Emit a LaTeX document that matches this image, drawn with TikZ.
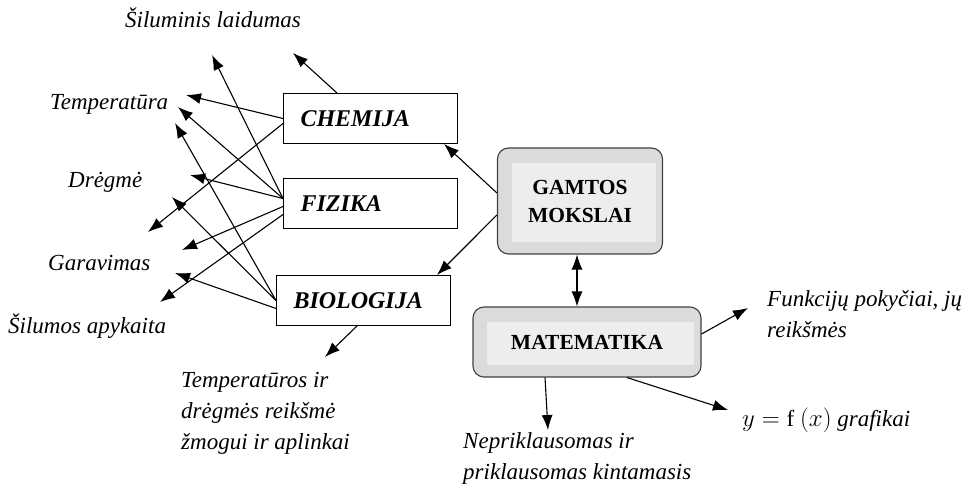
\documentclass[tikz,border=0pt]{standalone}
\usepackage{fontspec}
\setmainfont{Liberation Serif}
\usetikzlibrary{arrows.meta}

\begin{document}
\begin{tikzpicture}[x=1pt,y=-1pt,
  arr/.style={-{Latex[length=15pt,width=11pt]},line width=1.1pt},
  box/.style={draw,line width=1pt,anchor=north west,minimum height=50pt,text width=140pt,
    inner xsep=17pt,align=left,font=\fontsize{24}{26}\selectfont\bfseries\itshape},
  gbox/.style={draw=black!75,line width=1.1pt,rounded corners=11pt,fill=gray!28,align=center,
    font=\fontsize{21.5}{28}\selectfont\bfseries,
    path picture={\fill[gray!14,sharp corners] ([xshift=14pt,yshift=-15pt]path picture bounding box.north west)
      rectangle ([xshift=-7pt,yshift=12pt]path picture bounding box.south east);}},
  lab/.style={inner sep=0pt,align=left,font=\fontsize{23}{31}\selectfont\itshape}]
  \useasboundingbox (0,0) rectangle (970,495);

  % boxes
  \node[box] (chem) at (283,93) {CHEMIJA};
  \node[box] (fiz) at (283,178) {FIZIKA};
  \node[box] (bio) at (276,275) {BIOLOGIJA};
  \node[gbox,minimum width=165pt,minimum height=106pt] (gam) at (580,201) {GAMTOS\\MOKSLAI};
  \node[gbox,minimum width=228pt,minimum height=70pt] (mat) at (587,342) {MATEMATIKA};

  % labels
  \node[lab,anchor=west] (sil) at (125,18) {Šiluminis laidumas};
  \node[lab,anchor=west] (temp) at (50,104) {Temperatūra};
  \node[lab,anchor=west] (dreg) at (68,182) {Drėgmė};
  \node[lab,anchor=west] (gar) at (48,263) {Garavimas};
  \node[lab,anchor=west] (apyk) at (8,326) {Šilumos apykaita};
  \node[lab,anchor=north west] (reiks) at (181,372) {Temperatūros ir\\drėgmės reikšmė\\žmogui ir aplinkai};
  \node[lab,anchor=north west] (kint) at (463,432) {Nepriklausomas ir\\priklausomas kintamasis};
  \node[lab,anchor=north west] (funk) at (767,290) {Funkcijų pokyčiai, jų\\reikšmės};
  \node[lab,anchor=west] (graf) at (742,420) {$y=\mathrm{f}\ (x)$ grafikai};

  % arrow ends
  \coordinate (chemtop) at (293,53);
  \coordinate (chemtemp) at (186,95);
  \coordinate (chemdreg) at (148,232);
  \coordinate (fizsil) at (212,55);
  \coordinate (fiztemp) at (178,107);
  \coordinate (fizdreg) at (190,175);
  \coordinate (fizgar) at (182,250);
  \coordinate (fizapyk) at (160,302);
  \coordinate (biotemp) at (175,123);
  \coordinate (biodreg) at (172,197);
  \coordinate (biogar) at (175,273);
  \coordinate (bioreiks) at (325,357);
  \coordinate (matfunk) at (748,308);
  \coordinate (matkint) at (548,430);
  \coordinate (matgraf) at (728,410);

  \draw[arr] ([xshift=54pt]chem.north west) -- (chemtop);
  \draw[arr] (chem.west) -- (chemtemp);
  \draw[arr] ([yshift=-5pt]chem.west) -- (chemdreg);
  \draw[arr] ([yshift=5pt]fiz.west) -- (fizsil);
  \draw[arr] ([yshift=5pt]fiz.west) -- (fiztemp);
  \draw[arr] ([yshift=5pt]fiz.west) -- (fizdreg);
  \draw[arr] ([yshift=-3pt]fiz.west) -- (fizgar);
  \draw[arr] ([yshift=-11pt]fiz.west) -- (fizapyk);
  \draw[arr] (bio.west) -- (biotemp);
  \draw[arr] (bio.west) -- (biodreg);
  \draw[arr] ([yshift=-8pt]bio.west) -- (biogar);
  \draw[arr] ([xshift=81pt]bio.south west) -- (bioreiks);

  \draw[arr] ([yshift=8pt]gam.west) -- ([xshift=-14pt]chem.south east);
  \draw[arr] ([yshift=-14pt]gam.west) -- ([xshift=-14pt]bio.north east);
  \draw[arr,{Latex[length=15pt,width=11pt]}-{Latex[length=15pt,width=11pt]}]
    ([xshift=-3pt]gam.south) -- ([xshift=-3pt]gam.south |- mat.north);

  \draw[arr] ([yshift=8pt]mat.east) -- (matfunk);
  \draw[arr] ([xshift=-42pt]mat.south) -- (matkint);
  \draw[arr] ([xshift=40pt]mat.south) -- (matgraf);
\end{tikzpicture}
\end{document}
